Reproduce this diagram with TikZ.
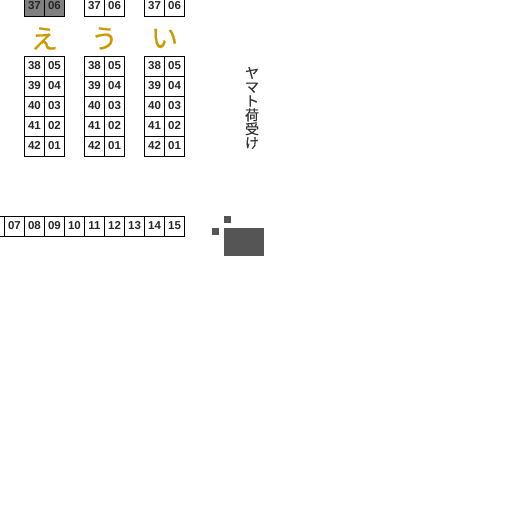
\documentclass[tikz,border=0pt]{standalone}
\usepackage{fontspec}
\setmainfont{Liberation Sans}
\newfontfamily\jpfont[FakeBold=0.25]{Noto Sans CJK JP}
\newfontfamily\jpheavy[FakeBold=0.6]{Noto Sans CJK JP}
\definecolor{kana}{RGB}{204,153,0}
\definecolor{block}{RGB}{85,85,85}
\def\cellsep{20}

\begin{document}
\begin{tikzpicture}[x=1pt,y=1pt]
      \tikzstyle{cell}=[rectangle,draw=black,line width=1pt,minimum size=20pt,inner sep=0pt,text height=8.2pt,text depth=2pt,font=\fontsize{11.5}{12}\bfseries\selectfont,text=black!85]
      \tikzstyle{taken}=[cell,fill=black!50]
      \tikzstyle{kanalabel}=[text=kana,font=\jpheavy\fontsize{27}{27}\selectfont,inner sep=0pt]
      \tikzstyle{solid block}=[rectangle,fill=block,inner sep=0pt,anchor=north west]
      \useasboundingbox (0,0) rectangle (513,-513);

      % Top row of each group, cut by the edge
      \foreach \name / \x / \kind in {e/34.5/taken,u/94.5/cell,i/154.5/cell} {
          \node[\kind] (\name-37) at (\x,-6.5) {37};
          \node[\kind] (\name-06) at (\x+\cellsep,-6.5) {06};
      }

      % Groups of seats
      \foreach \name / \x in {e/34.5,u/94.5,i/154.5}
          \foreach \lnum / \rnum [count=\y from 0] in {38/05,39/04,40/03,41/02,42/01} {
              \node[cell] (\name-\lnum) at (\x,-66.5-\y*\cellsep) {\lnum};
              \node[cell] (\name-\rnum) at (\x+\cellsep,-66.5-\y*\cellsep) {\rnum};
          }

      % Group labels
      \node[kanalabel] (kana-e) at (44.5,-38.5) {え};
      \node[kanalabel] (kana-u) at (104.5,-38.5) {う};
      \node[kanalabel] (kana-i) at (164.5,-38.5) {い};

      % Bottom row
      \node[cell] (row-06) at (-5.5,-226) {};
      \foreach \num [count=\x from 0] in {07,08,09,10,11,12,13,14,15}
          \node[cell] (row-\num) at (14.5+\x*\cellsep,-226) {\num};

      % Side label
      \node[align=center,text=black!80,inner sep=0pt,font=\jpfont\fontsize{14}{14}\selectfont] (yamato) at (252,-108)
          {ヤ\\マ\\ト\\荷\\受\\け};

      % Dark blocks
      \node[solid block,minimum width=40pt,minimum height=28pt] (main block) at (224,-228) {};
      \node[solid block,minimum size=7pt] (top block) at (224,-216) {};
      \node[solid block,minimum size=7pt] (left block) at (212,-228) {};
  \end{tikzpicture}
\end{document}
